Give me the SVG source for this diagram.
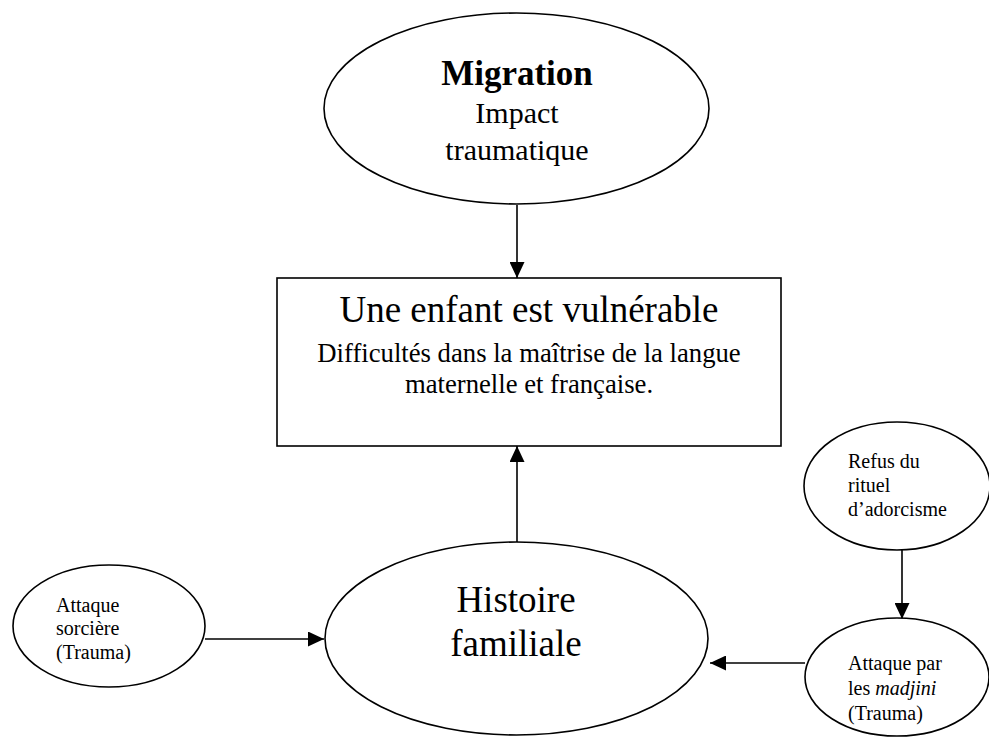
<svg xmlns="http://www.w3.org/2000/svg" width="989" height="737" viewBox="0 0 989 737">
<style>
  .shape { fill: #ffffff; stroke: #000000; stroke-width: 1.6; }
  .conn { stroke: #000000; stroke-width: 1.6; fill: none; }
  text { font-family: "Liberation Serif", "Times New Roman", serif; fill: #000000; }
  .c { text-anchor: middle; }
</style>
<defs>
  <marker id="arrow" markerUnits="userSpaceOnUse" markerWidth="16" markerHeight="15" refX="16" refY="7.5" orient="auto">
    <path d="M0,0 L16,7.5 L0,15 z" fill="#000000"/>
  </marker>
</defs>
<rect width="989" height="737" fill="#ffffff"/>
<g id="connectors">
  <line class="conn" x1="517" y1="205" x2="517" y2="278" marker-end="url(#arrow)"/>
  <line class="conn" x1="517" y1="542" x2="517" y2="446" marker-end="url(#arrow)"/>
  <line class="conn" x1="205" y1="639" x2="324" y2="639" marker-end="url(#arrow)"/>
  <line class="conn" x1="902" y1="550" x2="902" y2="619" marker-end="url(#arrow)"/>
  <line class="conn" x1="805" y1="663" x2="710" y2="663" marker-end="url(#arrow)"/>
</g>
<g id="migration">
  <ellipse class="shape" cx="516.5" cy="108.5" rx="192.5" ry="95.5"/>
  <text class="c" x="517" y="85" font-size="35" font-weight="bold">Migration</text>
  <text class="c" x="517" y="123" font-size="30">Impact</text>
  <text class="c" x="517" y="160" font-size="30">traumatique</text>
</g>
<g id="enfant">
  <rect class="shape" x="277" y="278" width="504" height="168"/>
  <text class="c" x="529" y="322" font-size="37">Une enfant est vulnérable</text>
  <text class="c" x="529" y="362" font-size="26.7">Difficultés dans la maîtrise de la langue</text>
  <text class="c" x="529" y="393" font-size="26.7">maternelle et française.</text>
</g>
<g id="histoire">
  <ellipse class="shape" cx="516.5" cy="638.5" rx="191.5" ry="96.5"/>
  <text class="c" x="516" y="612" font-size="37">Histoire</text>
  <text class="c" x="516" y="656" font-size="37">familiale</text>
</g>
<g id="sorciere">
  <ellipse class="shape" cx="109" cy="626" rx="96" ry="61"/>
  <text x="56" y="612" font-size="20">Attaque</text>
  <text x="56" y="635" font-size="20">sorcière</text>
  <text x="56" y="659" font-size="20">(Trauma)</text>
</g>
<g id="refus">
  <ellipse class="shape" cx="897" cy="486" rx="93" ry="64"/>
  <text x="848" y="468" font-size="20">Refus du</text>
  <text x="848" y="492" font-size="20">rituel</text>
  <text x="848" y="516" font-size="20">d’adorcisme</text>
</g>
<g id="madjini">
  <ellipse class="shape" cx="897" cy="677" rx="92" ry="59"/>
  <text x="848" y="670" font-size="20">Attaque par</text>
  <text x="848" y="695" font-size="20">les <tspan font-style="italic">madjini</tspan></text>
  <text x="848" y="720" font-size="20">(Trauma)</text>
</g>
</svg>
